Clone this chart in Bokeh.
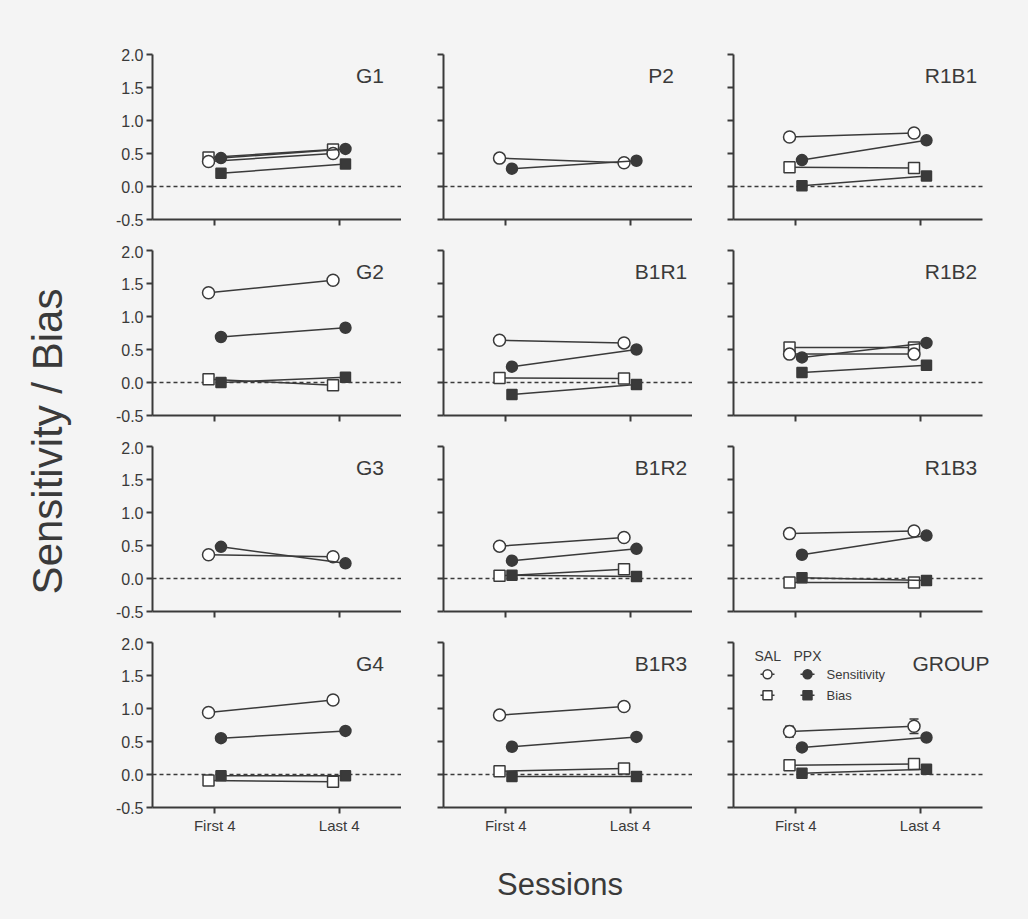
from math import pi
from bokeh.plotting import figure
from bokeh.layouts import column, row
from bokeh.models import (Range1d, FixedTicker, Whisker, TeeHead, ColumnDataSource,
                          NumeralTickFormatter, CustomLabelingPolicy, Label)
from bokeh.core.properties import value
from bokeh.embed import file_html
from bokeh.resources import INLINE

# ---------------- data ----------------
sessions = ["First 4", "Last 4"]
session_pos = [1, 2]
panel_names = ["G1", "P2", "R1B1",
               "G2", "B1R1", "R1B2",
               "G3", "B1R2", "R1B3",
               "G4", "B1R3", "GROUP"]
sal_sensitivity = [[0.38, 0.50], [0.43, 0.36], [0.75, 0.81],
                   [1.36, 1.55], [0.64, 0.60], [0.43, 0.43],
                   [0.36, 0.33], [0.49, 0.62], [0.68, 0.72],
                   [0.94, 1.13], [0.90, 1.03], [0.65, 0.73]]
ppx_sensitivity = [[0.43, 0.57], [0.27, 0.39], [0.40, 0.70],
                   [0.69, 0.83], [0.24, 0.50], [0.38, 0.60],
                   [0.48, 0.23], [0.27, 0.45], [0.36, 0.65],
                   [0.55, 0.66], [0.42, 0.57], [0.41, 0.56]]
sal_bias = [[0.44, 0.56], None, [0.29, 0.28],
            [0.05, -0.04], [0.07, 0.06], [0.53, 0.53],
            None, [0.04, 0.14], [-0.06, -0.06],
            [-0.09, -0.11], [0.05, 0.09], [0.14, 0.16]]
ppx_bias = [[0.20, 0.34], None, [0.01, 0.16],
            [0.00, 0.08], [-0.18, -0.03], [0.15, 0.26],
            None, [0.05, 0.03], [0.01, -0.03],
            [-0.02, -0.02], [-0.03, -0.03], [0.02, 0.08]]
group_sal_sens_err = [0.08, 0.11]
y_ticks = [-0.5, 0.0, 0.5, 1.0, 1.5, 2.0]

# ---------------- style ----------------
BG = "#f4f4f4"
C = "#3a3a3a"
TC = "#3a3a3a"
FONT = "Liberation Sans"
OFF = 0.05
FRAME_W, FRAME_H = 249, 165
X0, X1, Y0, Y1 = 0.5, 2.5, -0.5, 2.0
EXTRA_R = 14  # extra frame room at the right of the last column (for the GROUP title)

HIDE_LABELS_CODE = """
    for (const i of indices)
        indices.unset(i)
    return indices
"""


def px_x(px):
    return X0 + px * (X1 - X0) / FRAME_W


def px_y(py):
    return Y1 - py * (Y1 - Y0) / FRAME_H


def make_panel(i):
    r, c = divmod(i, 3)
    left = [72, 42, 41][c]
    extra = EXTRA_R if c == 2 else 0
    right = [0, 0, 46 - EXTRA_R][c]
    top = 54 if r == 0 else 5
    bottom = 30 if r == 3 else 26
    p = figure(frame_width=FRAME_W + extra, frame_height=FRAME_H,
               x_range=Range1d(X0, px_x(FRAME_W + extra)), y_range=Range1d(Y0, Y1),
               output_backend="svg", toolbar_location=None,
               min_border_left=left, min_border_right=right,
               min_border_top=top, min_border_bottom=bottom,
               background_fill_color=BG, border_fill_color=BG,
               outline_line_color=None)
    p.xgrid.visible = False
    p.ygrid.visible = False
    p.xaxis.ticker = FixedTicker(ticks=session_pos)
    p.xaxis.major_label_overrides = {session_pos[k]: sessions[k] for k in range(2)}
    p.xaxis.bounds = (X0, X1)
    p.yaxis.ticker = FixedTicker(ticks=y_ticks)
    p.yaxis.formatter = NumeralTickFormatter(format="0.0")
    for ax in p.axis:
        ax.axis_line_color = C
        ax.axis_line_width = 2
        ax.major_tick_line_color = C
        ax.major_tick_line_width = 2
        ax.major_tick_out = 6
        ax.major_tick_in = 0
        ax.minor_tick_line_color = None
        ax.major_label_text_font = FONT
        ax.major_label_text_font_size = "15px"
        ax.major_label_text_color = TC
        ax.major_label_standoff = 3
    p.yaxis.major_label_text_font_size = "16px"
    if c != 0:
        p.yaxis.major_label_policy = CustomLabelingPolicy(code=HIDE_LABELS_CODE)
        p.yaxis.major_label_text_font_size = "1px"
        p.yaxis.major_label_standoff = 0
    if r != 3:
        p.xaxis.major_label_policy = CustomLabelingPolicy(code=HIDE_LABELS_CODE)
        p.xaxis.major_label_text_font_size = "1px"
        p.xaxis.major_label_standoff = 0

    # dashed zero line
    p.line([X0, X1], [0, 0], line_color=C, line_width=1.5, line_dash="4 3")

    xs_sal = [x - OFF for x in session_pos]
    xs_ppx = [x + OFF for x in session_pos]

    if panel_names[i] == "GROUP":
        src = ColumnDataSource(dict(x=xs_sal,
                                    lo=[v - e for v, e in zip(sal_sensitivity[i], group_sal_sens_err)],
                                    hi=[v + e for v, e in zip(sal_sensitivity[i], group_sal_sens_err)]))
        w = Whisker(source=src, base="x", lower="lo", upper="hi", dimension="height",
                    line_color=C, line_width=1.5, level="underlay",
                    lower_head=TeeHead(size=9, line_color=C, line_width=1.5),
                    upper_head=TeeHead(size=9, line_color=C, line_width=1.5))
        p.add_layout(w)

    series = [
        (sal_bias[i], xs_sal, "square", "#ffffff", 11),
        (ppx_bias[i], xs_ppx, "square", C, 10),
        (sal_sensitivity[i], xs_sal, "circle", "#ffffff", 12),
        (ppx_sensitivity[i], xs_ppx, "circle", C, 11),
    ]
    for vals, xs, marker, fill, size in series:
        if vals is None:
            continue
        p.line(xs, vals, line_color=C, line_width=1.5)
        p.scatter(xs, vals, marker=marker, size=size, fill_color=fill,
                  line_color=C, line_width=1.5)

    p.add_layout(Label(x=px_x(217.5), y=px_y(20.5), text=panel_names[i],
                       text_align="center", text_baseline="middle",
                       text_font=FONT, text_font_size="21px", text_color=TC))

    if panel_names[i] == "GROUP":
        # legend
        for tx, t in [(21, "SAL"), (60, "PPX")]:
            p.add_layout(Label(x=px_x(tx), y=px_y(13.4), text=t,
                               text_align="left", text_baseline="middle",
                               text_font=FONT, text_font_size="14px", text_color=TC))
        for py, marker, lab in [(31.7, "circle", "Sensitivity"), (52.7, "square", "Bias")]:
            yy = px_y(py)
            for cx, fill in [(34, "#ffffff"), (74, C)]:
                p.segment(x0=[px_x(cx - 7)], y0=[yy], x1=[px_x(cx + 7)], y1=[yy],
                          line_color=C, line_width=1.5)
                p.scatter([px_x(cx)], [yy], marker=marker, size=9,
                          fill_color=fill, line_color=C, line_width=1.5)
            p.add_layout(Label(x=px_x(93), y=yy, text=lab, text_align="left",
                               text_baseline="middle", text_font=FONT,
                               text_font_size="13px", text_color=TC))
    return p


panels = [make_panel(i) for i in range(12)]
grid = column(*[row(*panels[3 * r:3 * r + 3], styles={"background-color": BG})
                for r in range(4)], styles={"background-color": BG})

H_TOP = 245 + 196 + 196 + 200
ylab = figure(width=80, height=H_TOP, x_range=Range1d(0, 80), y_range=Range1d(0, H_TOP),
              output_backend="svg", toolbar_location=None,
              x_axis_location=None, y_axis_location=None,
              min_border=0, background_fill_color=BG, border_fill_color=BG,
              outline_line_color=None)
ylab.xgrid.visible = False
ylab.ygrid.visible = False
ylab.text(x=[47], y=[H_TOP - 441], text=["Sensitivity / Bias"], angle=pi / 2,
          text_align="center", text_baseline="middle",
          text_font=value(FONT), text_font_size="42px", text_color=TC)

H_BOT = 919 - H_TOP
xlab = figure(width=1028, height=H_BOT, x_range=Range1d(0, 1028), y_range=Range1d(0, H_BOT),
              output_backend="svg", toolbar_location=None,
              x_axis_location=None, y_axis_location=None,
              min_border=0, background_fill_color=BG, border_fill_color=BG,
              outline_line_color=None)
xlab.xgrid.visible = False
xlab.ygrid.visible = False
xlab.text(x=[559.5], y=[H_BOT - (884 - H_TOP)], text=["Sessions"],
          text_align="center", text_baseline="middle",
          text_font=value(FONT), text_font_size="31px", text_color=TC)

layout = column(row(ylab, grid, styles={"background-color": BG}), xlab,
                styles={"background-color": BG})
html = file_html(layout, INLINE)
html = html.replace("<body>", '<body style="margin:0;background-color:%s;">' % BG, 1)
open("out.html", "w").write(html)
